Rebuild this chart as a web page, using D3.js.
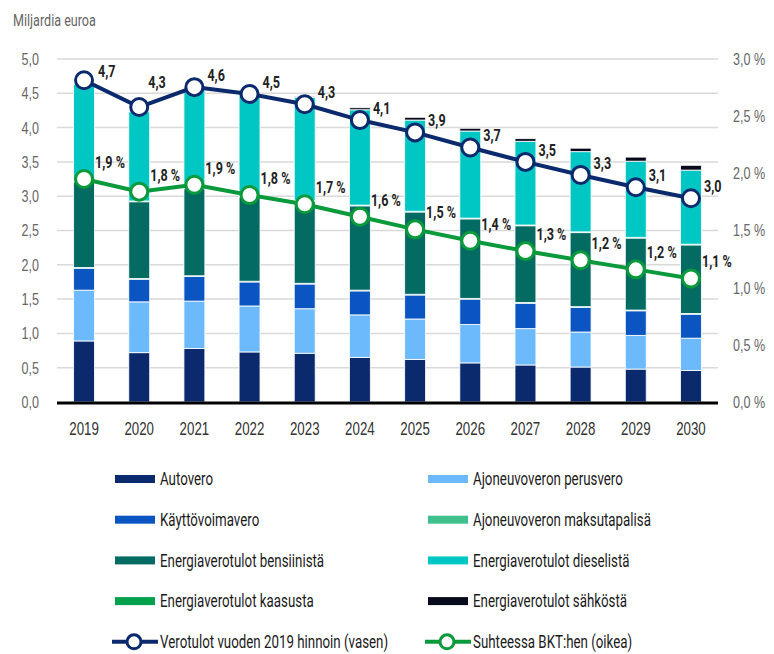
<!DOCTYPE html>
<html><head><meta charset="utf-8">
<script src="https://cdn.jsdelivr.net/npm/d3@7"></script>
<style>
body{margin:0;background:#fff;}
svg{display:block;font-family:Roboto,"Liberation Sans",Arial,sans-serif;}
</style></head><body>
<svg id="c" width="774" height="654"></svg>
<script>
const years = [2019,2020,2021,2022,2023,2024,2025,2026,2027,2028,2029,2030];
const autovero      = [0.89,0.72,0.78,0.73,0.71,0.65,0.62,0.57,0.54,0.51,0.48,0.46];
const perusvero     = [0.74,0.74,0.69,0.67,0.65,0.62,0.59,0.56,0.53,0.51,0.49,0.47];
const kayttovoima   = [0.32,0.33,0.36,0.35,0.36,0.35,0.35,0.37,0.37,0.36,0.36,0.35];
const maksutapalisa = [0.01,0.01,0.01,0.01,0.01,0.01,0.01,0.01,0.01,0.01,0.01,0.01];
const bensiini      = [1.25,1.12,1.27,1.23,1.20,1.23,1.20,1.16,1.12,1.08,1.05,1.00];
const kaasu         = [0.01,0.01,0.01,0.01,0.01,0.01,0.01,0.01,0.01,0.01,0.01,0.01];
const diesel        = [1.41,1.30,1.46,1.50,1.50,1.39,1.33,1.27,1.22,1.17,1.11,1.08];
const sahko         = [0.00,0.00,0.00,0.00,0.01,0.03,0.04,0.04,0.04,0.05,0.06,0.07];
const verotulot     = [4.69,4.30,4.59,4.49,4.34,4.11,3.93,3.71,3.50,3.31,3.13,2.97];
const verotulotLabels = ["4,7","4,3","4,6","4,5","4,3","4,1","3,9","3,7","3,5","3,3","3,1","3,0"];
const bkt           = [1.95,1.84,1.90,1.81,1.73,1.62,1.51,1.41,1.32,1.24,1.16,1.08];
const bktLabels     = ["1,9 %","1,8 %","1,9 %","1,8 %","1,7 %","1,6 %","1,5 %","1,4 %","1,3 %","1,2 %","1,2 %","1,1 %"];
const leftTicks  = [0,0.5,1,1.5,2,2.5,3,3.5,4,4.5,5];
const rightTicks = [0,0.5,1,1.5,2,2.5,3];

const seriesNames = ["Autovero","Ajoneuvoveron perusvero","Käyttövoimavero","Ajoneuvoveron maksutapalisä",
  "Energiaverotulot bensiinistä","Energiaverotulot kaasusta","Energiaverotulot dieselistä","Energiaverotulot sähköstä"];
const seriesData = [autovero,perusvero,kayttovoima,maksutapalisa,bensiini,kaasu,diesel,sahko];
const colors = ["#0b2a6e","#6cb9fb","#0a55c2","#3fc08d","#046b63","#03a04d","#00c7c3","#060a1a"];

const table = years.map((y,i)=>{const o={year:y}; seriesNames.forEach((n,k)=>o[n]=seriesData[k][i]); return o;});

const svg = d3.select("#c");
const L=57, R=718, T=59, B=402;
const x = d3.scaleBand().domain(years).range([L,R]).paddingInner(0.62).paddingOuter(0.3);
const y = d3.scaleLinear().domain([0,5]).range([B,T]);
const y2 = d3.scaleLinear().domain([0,3]).range([B,T]);
const fmt = d3.format(".1f");
const comma = v=>fmt(v).replace(".",",");

// gridlines
svg.append("g").selectAll("line").data(leftTicks.filter(d=>d>0)).join("line")
  .attr("x1",L).attr("x2",R).attr("y1",d=>y(d)).attr("y2",d=>y(d))
  .attr("stroke","#d9d9d9").attr("stroke-width",1.5);

// left axis
const ga = svg.append("g").attr("transform",`translate(${L-18},0)`)
  .call(d3.axisLeft(y).tickValues(leftTicks).tickFormat(comma).tickSize(0).tickPadding(0));
ga.select(".domain").remove();
ga.selectAll("text").attr("font-size",17).attr("fill","#666").attr("font-family",null);

// right axis
const gr = svg.append("g").attr("transform",`translate(${R+15},0)`)
  .call(d3.axisRight(y2).tickValues(rightTicks).tickFormat(d=>comma(d)+" %").tickSize(0).tickPadding(0));
gr.select(".domain").remove();
gr.selectAll("text").attr("font-size",17).attr("fill","#666").attr("font-family",null);

svg.append("text").attr("x",13).attr("y",26).attr("font-size",17).attr("fill","#666").text("Miljardia euroa");

// stacked bars
const stack = d3.stack().keys(seriesNames)(table);
svg.append("g").selectAll("g").data(stack).join("g").attr("fill",(d,i)=>colors[i])
  .selectAll("rect").data(d=>d).join("rect")
  .attr("x",d=>x(d.data.year)).attr("width",x.bandwidth())
  .attr("y",d=>y(d[1])).attr("height",d=>Math.max(0,y(d[0])-y(d[1])))
  .attr("stroke","#fff").attr("stroke-width",1).attr("stroke-opacity",0.85);

// baseline
svg.append("line").attr("x1",L).attr("x2",R).attr("y1",B+1).attr("y2",B+1).attr("stroke","#000").attr("stroke-width",3);

// x axis labels
const gx = svg.append("g").attr("transform",`translate(0,${B+20})`)
  .call(d3.axisBottom(x).tickSize(0).tickPadding(0));
gx.select(".domain").remove();
gx.selectAll("text").attr("font-size",18).attr("fill","#333").attr("font-family",null);

const cx = i=>x(years[i])+x.bandwidth()/2;

// BKT line (right)
svg.append("path").datum(bkt).attr("fill","none").attr("stroke","#0a9a3c").attr("stroke-width",4)
  .attr("d",d3.line().x((d,i)=>cx(i)).y(d=>y2(d)));
svg.append("g").selectAll("circle").data(bkt).join("circle")
  .attr("cx",(d,i)=>cx(i)).attr("cy",d=>y2(d)).attr("r",8.5)
  .attr("fill","#fff").attr("stroke","#0a9a3c").attr("stroke-width",3);
svg.append("g").selectAll("text").data(bkt).join("text")
  .attr("x",(d,i)=>cx(i)+11).attr("y",d=>y2(d)-17).attr("dy","0.35em")
  .attr("font-size",17).attr("font-weight","bold").attr("fill","#222").text((d,i)=>bktLabels[i]);

// Verotulot line (left)
svg.append("path").datum(verotulot).attr("fill","none").attr("stroke","#0b2a6e").attr("stroke-width",4)
  .attr("d",d3.line().x((d,i)=>cx(i)).y(d=>y(d)));
svg.append("g").selectAll("circle").data(verotulot).join("circle")
  .attr("cx",(d,i)=>cx(i)).attr("cy",d=>y(d)).attr("r",8.5)
  .attr("fill","#fff").attr("stroke","#0b2a6e").attr("stroke-width",3);
// label sits higher when the line rises to the right (to clear the segment)
const rises = i => i < verotulot.length-1 && verotulot[i+1] > verotulot[i];
svg.append("g").selectAll("text").data(verotulot).join("text")
  .attr("x",(d,i)=>cx(i)+(rises(i)?9:(i===0?14:13)))
  .attr("y",(d,i)=>y(d)-(rises(i)?25:(i===0?9:12))).attr("dy","0.35em")
  .attr("font-size",17).attr("font-weight","bold").attr("fill","#222").text((d,i)=>verotulotLabels[i]);

// legend
const legendOrder = [
  {name:"Autovero",col:0,row:0},{name:"Ajoneuvoveron perusvero",col:1,row:0},
  {name:"Käyttövoimavero",col:0,row:1},{name:"Ajoneuvoveron maksutapalisä",col:1,row:1},
  {name:"Energiaverotulot bensiinistä",col:0,row:2},{name:"Energiaverotulot dieselistä",col:1,row:2},
  {name:"Energiaverotulot kaasusta",col:0,row:3},{name:"Energiaverotulot sähköstä",col:1,row:3}];
const colX = [115,428], rowY = r=>479+r*40.7;
const lg = svg.append("g");
legendOrder.forEach(it=>{
  const k = seriesNames.indexOf(it.name);
  lg.append("rect").attr("x",colX[it.col]).attr("y",rowY(it.row)-4).attr("width",40).attr("height",8).attr("fill",colors[k]);
  lg.append("text").attr("x",colX[it.col]+45).attr("y",rowY(it.row)).attr("dy","0.35em")
    .attr("font-size",18).attr("fill","#1a1a1a").text(it.name);
});
[{name:"Verotulot vuoden 2019 hinnoin (vasen)",c:"#0b2a6e",col:0},{name:"Suhteessa BKT:hen (oikea)",c:"#0a9a3c",col:1}].forEach(it=>{
  const x0 = colX[it.col]-3, yy = rowY(4);
  lg.append("line").attr("x1",x0).attr("x2",x0+46).attr("y1",yy).attr("y2",yy).attr("stroke",it.c).attr("stroke-width",4);
  lg.append("circle").attr("cx",x0+22).attr("cy",yy).attr("r",7).attr("fill","#fff").attr("stroke",it.c).attr("stroke-width",3);
  lg.append("text").attr("x",x0+48).attr("y",yy).attr("dy","0.35em").attr("font-size",18).attr("fill","#1a1a1a").text(it.name);
});

// condense all text horizontally (narrow typeface look)
svg.selectAll("text").each(function(){
  const bb = this.getBBox();
  const anchor = getComputedStyle(this).textAnchor;
  const ox = anchor==="end" ? bb.x+bb.width : anchor==="middle" ? bb.x+bb.width/2 : bb.x;
  const sx = 0.74;
  d3.select(this).attr("transform",`translate(${ox},0) scale(${sx},1) translate(${-ox},0)`);
});
</script></body></html>
